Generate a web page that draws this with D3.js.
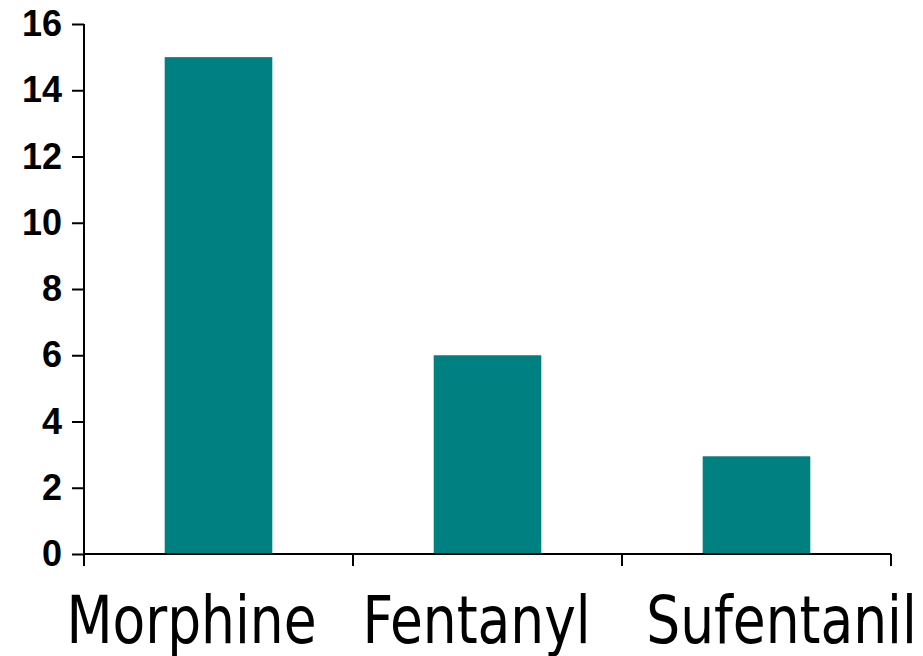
<!DOCTYPE html>
<html>
<head>
<meta charset="utf-8">
<script src="https://cdn.jsdelivr.net/npm/d3@7"></script>
<style>
  body { margin: 0; background: #fff; }
  .ytick text { font-family: "Liberation Sans", Arial, sans-serif; font-weight: bold; font-size: 36px; fill: #000; }
  .xlabel { font-family: "DejaVu Sans Condensed", "DejaVu Sans", sans-serif; font-size: 66px; fill: #000; }
</style>
</head>
<body>
<div id="chart"></div>
<script>

var drugs = ["Morphine", "Fentanyl", "Sufentanil"];
var values = [15, 6, 2.95];
var yTicks = [0, 2, 4, 6, 8, 10, 12, 14, 16];

// small nudges so the labels sit where the original put them
var labelShift = [-27, -11, 25];

var margin = { left: 84, right: 32, top: 24, bottom: 102 };

var width = 923 - margin.left - margin.right;
var height = 656 - margin.top - margin.bottom;

var svg = d3.select("#chart")
    .append("svg")
    .attr("width", 923)
    .attr("height", 656)
    .append("g")
    .attr("transform", "translate(" + margin.left + "," + margin.top + ")");

var xScale = d3.scaleBand()
    .domain(drugs)
    .range([0, width])
    .paddingInner(0.6)
    .paddingOuter(0.3);

var yScale = d3.scaleLinear()
    .domain([0, 16])
    .range([height, 0]);

// bars
svg.selectAll(".bar")
    .data(drugs)
    .enter()
    .append("rect")
    .attr("class", "bar")
    .attr("x", function(d) { return xScale(d); })
    .attr("width", xScale.bandwidth())
    .attr("y", function(d, i) { return yScale(values[i]); })
    .attr("height", function(d, i) { return height - yScale(values[i]); })
    .attr("fill", "#008080");

// y axis
var yAxis = d3.axisLeft(yScale)
    .tickValues(yTicks)
    .tickFormat(d3.format("d"))
    .tickSize(12)
    .tickPadding(10);

var gy = svg.append("g").attr("class", "ytick").call(yAxis);
gy.select(".domain").remove();
gy.selectAll("line").attr("stroke", "#000").attr("stroke-width", 2);
gy.append("line")
    .attr("x1", 0).attr("x2", 0)
    .attr("y1", yScale(16)).attr("y2", height + 12)
    .attr("stroke", "#000").attr("stroke-width", 2);

// x axis: line plus ticks at the category boundaries
svg.append("line")
    .attr("x1", 0).attr("x2", width)
    .attr("y1", height).attr("y2", height)
    .attr("stroke", "#000").attr("stroke-width", 2);

var step = xScale.step();
var bounds = d3.range(drugs.length + 1).map(function(i) { return i * step - (i === drugs.length ? 0 : 0); });

svg.selectAll(".xtick")
    .data(bounds)
    .enter()
    .append("line")
    .attr("class", "xtick")
    .attr("x1", function(d) { return Math.min(d, width); })
    .attr("x2", function(d) { return Math.min(d, width); })
    .attr("y1", height)
    .attr("y2", height + 12)
    .attr("stroke", "#000")
    .attr("stroke-width", 2);

svg.selectAll(".xlabel")
    .data(drugs)
    .enter()
    .append("text")
    .attr("class", "xlabel")
    .attr("text-anchor", "middle")
    .attr("transform", function(d, i) {
        var cx = xScale(d) + xScale.bandwidth() / 2 + labelShift[i];
        return "translate(" + cx + "," + (height + 89) + ") scale(0.9,1)";
    })
    .text(function(d) { return d; });

</script>
</body>
</html>
